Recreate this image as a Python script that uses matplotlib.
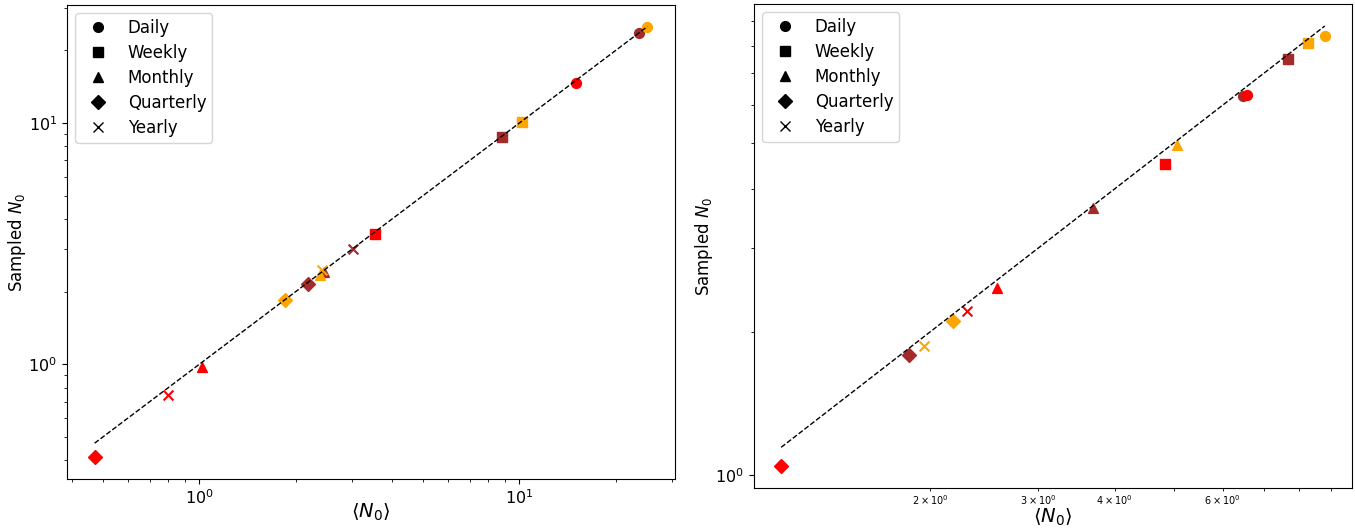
import numpy as np
import matplotlib
matplotlib.use("Agg")
import matplotlib.pyplot as plt
from matplotlib.lines import Line2D

freqs = ["Daily", "Weekly", "Monthly", "Quarterly", "Yearly"]
markers = ["o", "s", "^", "D", "x"]
colors = ["brown", "red", "orange"]

# left panel: <N0> and sampled N0, one list per colour, order as freqs
left_mean = {
    "brown":  [23.7, 8.81, 2.45, 2.19, 3.02],
    "red":    [15.0, 3.53, 1.02, 0.471, 0.80],
    "orange": [25.1, 10.2, 2.39, 1.858, 2.42],
}
left_samp = {
    "brown":  [23.6, 8.77, 2.42, 2.16, 3.00],
    "red":    [14.6, 3.47, 0.975, 0.411, 0.747],
    "orange": [24.9, 10.1, 2.35, 1.84, 2.47],
}

# right panel (no brown yearly point visible)
right_mean = {
    "brown":  [6.47, 7.66, 3.69, 1.849, np.nan],
    "red":    [6.57, 4.83, 2.57, 1.144, 2.30],
    "orange": [8.80, 8.25, 5.05, 2.18, 1.955],
}
right_samp = {
    "brown":  [6.27, 7.51, 3.64, 1.79, np.nan],
    "red":    [6.31, 4.51, 2.47, 1.045, 2.21],
    "orange": [8.40, 8.11, 4.94, 2.11, 1.87],
}

W, H = 1355, 528
fig = plt.figure(figsize=(W / 100, H / 100), dpi=100)
ax1 = fig.add_axes([67 / W, (H - 479) / H, (675 - 67) / W, (479 - 5) / H])
ax2 = fig.add_axes([754 / W, (H - 488) / H, (1352 - 754) / W, (488 - 4) / H])


def panel(ax, mean, samp, xpad, ypad):
    for c in colors:
        for i, m in enumerate(markers):
            ax.scatter(mean[c][i], samp[c][i], marker=m, color=c, s=50)
    allm = np.concatenate([np.array(mean[c], dtype=float) for c in colors])
    lo, hi = np.nanmin(allm), np.nanmax(allm)
    ax.plot([lo, hi], [lo, hi], "k--", lw=1)
    ax.set_xscale("log")
    ax.set_yscale("log")
    ax.set_xlabel(r"$\langle N_0 \rangle$", fontsize=14, labelpad=xpad)
    ax.set_ylabel(r"Sampled $N_0$", fontsize=12, labelpad=ypad)
    ax.tick_params(labelsize=11.5)
    handles = [Line2D([], [], color="k", marker=m, linestyle="none", markersize=7)
               for m in markers]
    ax.legend(handles, freqs, loc="upper left", fontsize=12,
              labelspacing=0.42, borderpad=0.35)


panel(ax1, left_mean, left_samp, -4, 0)
panel(ax2, right_mean, right_samp, 0, 0.5)
ax2.tick_params(axis="x", which="minor", labelsize=7, pad=1.5)

fig.savefig("out.png", dpi=100)
